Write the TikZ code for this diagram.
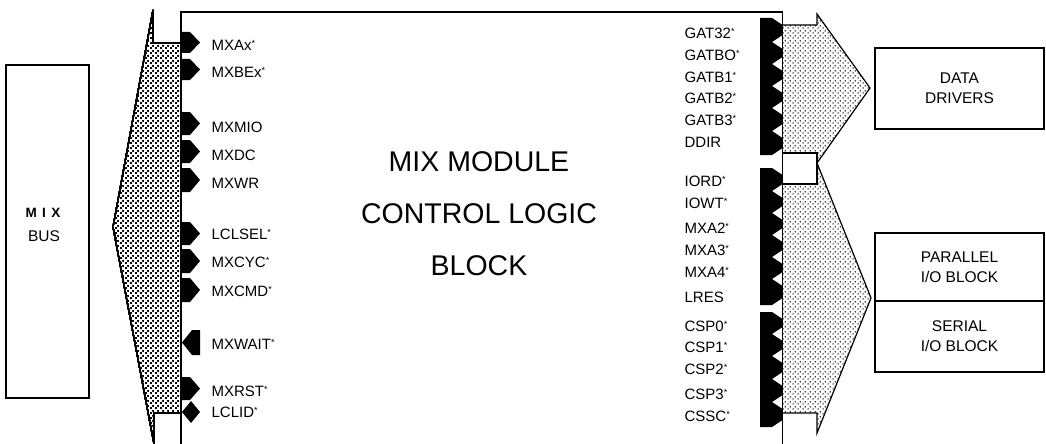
\documentclass[tikz,border=0pt]{standalone}
\usepackage{fontspec}
\setmainfont{Liberation Sans}
\usetikzlibrary{patterns}
\pgfdeclarepatternformonly{stip}{\pgfqpoint{0pt}{0pt}}{\pgfqpoint{4.6pt}{4.6pt}}{\pgfqpoint{4.6pt}{4.6pt}}{%
  \pgfpathcircle{\pgfqpoint{1.15pt}{1.15pt}}{0.8pt}%
  \pgfpathcircle{\pgfqpoint{3.45pt}{3.45pt}}{0.8pt}%
  \pgfusepath{fill}}
\newcommand{\pstar}{\raisebox{4pt}{\fontsize{9}{9}\selectfont *}}
\newcommand{\outpin}[2]{\fill (760,#1) -- (772,#1) -- (782.5,#1+7) -- (782.5,#2-7) -- (772,#2) -- (760,#2) -- cycle;}
\begin{document}
\begin{tikzpicture}[x=1pt,y=-1pt,line width=1.2pt,line join=miter,
  lbl/.style={anchor=base west,font=\fontsize{15}{15}\selectfont,inner sep=0pt,text=black},
  boxtxt/.style={draw,align=center,inner sep=0pt,font=\fontsize{15.5}{20}\selectfont},
  stipple/.style={pattern=stip,pattern color=black}]
\useasboundingbox (0,0) rectangle (1046,444);
% left labels
\foreach \yy/\txt [count=\i] in {45/MXAx\pstar,72/MXBEx\pstar,127/MXMIO,155/MXDC,183/MXWR,
    234/LCLSEL\pstar,262/MXCYC\pstar,291/MXCMD\pstar,344/MXWAIT\pstar,391/MXRST\pstar,412/LCLID\pstar}
  \node[lbl] (l\i) at (211,\yy+5.35) {\txt};
% right labels
\foreach \yy/\txt [count=\i] in {33/GAT32\pstar,55/GATBO\pstar,77/GATB1\pstar,98/GATB2\pstar,120/GATB3\pstar,142/DDIR,
    181/IORD\pstar,203/IOWT\pstar,228/MXA2\pstar,250/MXA3\pstar,272/MXA4\pstar,297/LRES,
    326/CSP0\pstar,347/CSP1\pstar,369/CSP2\pstar,394/CSP3\pstar,416/CSSC\pstar}
  \node[lbl] (r\i) at (684,\yy+5.35) {\txt};
% central title
\node[align=center,font=\fontsize{28.5}{52}\selectfont] (ctl) at (479,214) {MIX MODULE\\CONTROL LOGIC\\BLOCK};
% outside boxes
\node[draw,minimum width=83pt,minimum height=333pt,inner sep=0pt] (bus) at (47.5,231.5) {};
\node[inner sep=0pt,font=\fontsize{13.5}{13.5}\selectfont\bfseries] (mixt) at (43,213) {M\hspace{5.5pt}I\hspace{5.5pt}X};
\node[inner sep=0pt,font=\fontsize{15.5}{15.5}\selectfont] (bust) at (44,236) {BUS};
\node[boxtxt,minimum width=169pt,minimum height=81pt] (dd) at (959.5,88.5) {DATA\\DRIVERS};
\node[boxtxt,minimum width=169pt,minimum height=68pt] (pio) at (959.5,267) {PARALLEL\\I/O BLOCK};
\node[boxtxt,minimum width=169pt,minimum height=71pt] (sio) at (959.5,336.5) {SERIAL\\I/O BLOCK};
% left pins
\foreach \tp/\bt in {32/53,59/80,112/135,140/163,168/192,222/245,249/273,278/302,377/400}
  \fill (181,\tp) -- (190,\tp) -- (200,{(\tp+\bt)/2}) -- (190,\bt) -- (181,\bt) -- cycle;
\fill (200,330) -- (192,330) -- (182,342.5) -- (192,355) -- (200,355) -- cycle;
\fill (182,412) -- (191,401) -- (200,412) -- (191,423) -- cycle;
% right pins
\foreach \tp/\bt in {18/42,42/64,64/86,86/108,108/131,131/155,
                     168/191,191/213,213/235,235/257,257/279,279/305,
                     312/334,334/356,356/379,379/402,402/427}
  \outpin{\tp}{\bt}
% stippled bus arrows
\draw[stipple] (181,43) -- (153,43) -- (153,10) -- (113,227) -- (154,444) -- (154,413) -- (181,413);
\draw[stipple] (782.5,25) -- (817,25) -- (817,14) -- (870,88) -- (817,163) -- (817,153) -- (782.5,153);
\draw[stipple] (782.5,184) -- (817,184) -- (817,163) -- (871,298) -- (817,433) -- (817,413) -- (782.5,413);
\draw (782.5,153) rectangle (817,184);
% main block outline
\draw (181,444) -- (181,12) -- (782.5,12) -- (782.5,444);
\end{tikzpicture}
\end{document}
